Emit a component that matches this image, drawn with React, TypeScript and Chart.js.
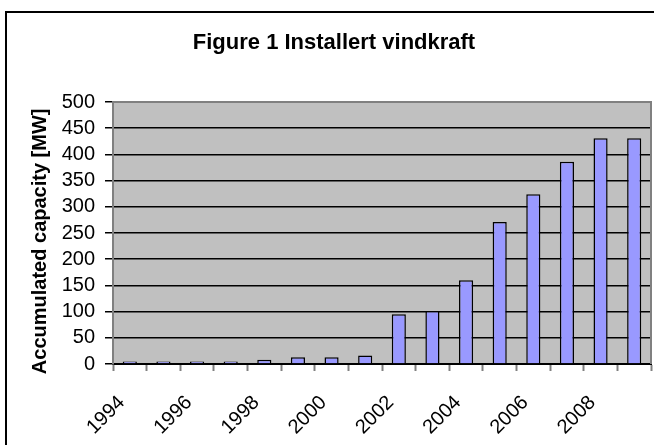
import React, { useEffect, useRef } from "react";
import { Chart, registerables } from "chart.js";

Chart.register(...registerables);

const years: string[] = [
  "1994", "1995", "1996", "1997", "1998", "1999", "2000", "2001",
  "2002", "2003", "2004", "2005", "2006", "2007", "2008", "2009",
];
const capacityMW: number[] = [5, 5, 5, 5, 8, 13, 13, 16, 95, 101, 160, 271, 324, 386, 431, 431];
const chartTitle = "Figure 1 Installert vindkraft";
const yTitle = "Accumulated capacity [MW]";
const yMin = 0;
const yMax = 500;
const yStep = 50;

const FONT = "'Liberation Sans', Arial, sans-serif";

const backgroundPlugin = {
  id: "plotBackground",
  beforeDraw(chart: any) {
    const { ctx, chartArea } = chart;
    ctx.save();
    ctx.fillStyle = "#ffffff";
    ctx.fillRect(0, 0, chart.width, chart.height);
    ctx.fillStyle = "#C0C0C0";
    ctx.fillRect(chartArea.left, chartArea.top, chartArea.right - chartArea.left, chartArea.bottom - chartArea.top);
    ctx.strokeStyle = "#000000";
    ctx.lineWidth = 2;
    ctx.strokeRect(6, 12, 800, 600);
    ctx.restore();
  },
  afterDatasetsDraw(chart: any) {
    const { ctx, chartArea } = chart;
    ctx.save();
    ctx.strokeStyle = "#808080";
    ctx.lineWidth = 2;
    ctx.beginPath();
    ctx.moveTo(chartArea.left, chartArea.top);
    ctx.lineTo(chartArea.right, chartArea.top);
    ctx.lineTo(chartArea.right, chartArea.bottom);
    ctx.stroke();
    ctx.restore();
  },
};

export default function App() {
  const canvasRef = useRef<HTMLCanvasElement | null>(null);

  useEffect(() => {
    if (!canvasRef.current) return;
    const chart = new Chart(canvasRef.current, {
      type: "bar",
      data: {
        labels: years,
        datasets: [
          {
            data: capacityMW,
            backgroundColor: "#9999FF",
            borderColor: "#000000",
            borderWidth: 1.5,
            categoryPercentage: 1,
            barPercentage: 0.42,
          },
        ],
      },
      options: {
        animation: false,
        responsive: false,
        maintainAspectRatio: false,
        layout: { padding: { left: 17, right: 3, top: 0, bottom: 0 } },
        plugins: {
          legend: { display: false },
          tooltip: { enabled: false },
          title: {
            display: true,
            text: chartTitle,
            color: "#000000",
            font: { family: FONT, size: 22, weight: "bold" },
            padding: { top: 30, bottom: 45.6 },
          },
        },
        scales: {
          x: {
            offset: true,
            grid: {
              offset: true,
              drawOnChartArea: false,
              drawTicks: true,
              tickLength: 7,
              tickColor: "#808080",
              tickWidth: 2,
            },
            border: { color: "#000000", width: 2 },
            ticks: {
              autoSkip: false,
              minRotation: 45,
              maxRotation: 45,
              padding: 20,
              labelOffset: -8,
              color: "#000000",
              font: { family: FONT, size: 20 },
              callback: (_v: any, i: number) => (i % 2 === 0 ? years[i] : ""),
            },
            afterFit: (scale: any) => {
              scale.height = 81;
              scale.paddingLeft = 0;
              scale.paddingRight = 0;
            },
          },
          y: {
            min: yMin,
            max: yMax,
            ticks: {
              stepSize: yStep,
              autoSkip: false,
              padding: 10,
              color: "#000000",
              font: { family: FONT, size: 20 },
            },
            grid: {
              color: "#000000",
              lineWidth: 1.5,
              tickLength: 8,
              tickColor: "#000000",
              tickWidth: 1.5,
            },
            border: { color: "#808080", width: 2 },
            title: {
              display: true,
              text: yTitle + "   ",
              color: "#000000",
              font: { family: FONT, size: 20, weight: "bold" },
              padding: { top: 11, bottom: 0 },
            },
            afterFit: (scale: any) => {
              scale.width = 96;
            },
          },
        },
      },
      plugins: [backgroundPlugin],
    });
    return () => chart.destroy();
  }, []);

  return (
    <div
      style={{
        position: "fixed",
        left: 0,
        top: 0,
        width: 654,
        height: 445,
        overflow: "hidden",
        background: "#ffffff",
      }}
    >
      <canvas ref={canvasRef} width={654} height={445} style={{ display: "block", width: 654, height: 445 }} />
    </div>
  );
}
